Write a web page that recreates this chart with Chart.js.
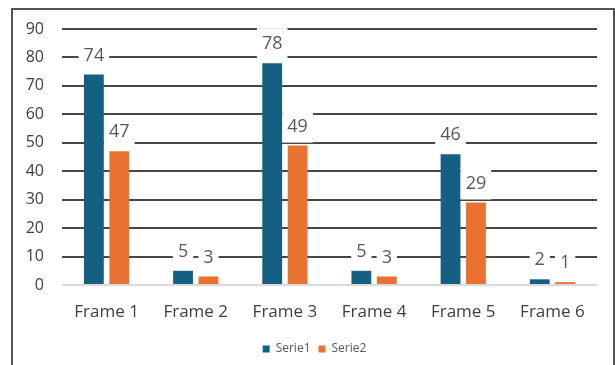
<!DOCTYPE html>
<html lang="en">
<head>
    <meta charset="UTF-8">
    <title>Frames</title>
    <script src="https://cdn.jsdelivr.net/npm/chart.js"></script>
    <style>
        body {
            margin: 0;
            background-color: #fff;
            overflow: hidden;
        }
        #frame {
            position: absolute;
            left: 11px;
            top: 8px;
            width: 600px;
            height: 400px;
            border: 2px solid #555;
        }
        #chartBox {
            position: absolute;
            left: 0;
            top: 0;
            width: 615px;
            height: 365px;
        }
    </style>
</head>
<body>
    <div id="frame"></div>
    <div id="chartBox">
        <canvas id="myChart"></canvas>
    </div>

    <script>
        const categories = ['Frame 1', 'Frame 2', 'Frame 3', 'Frame 4', 'Frame 5', 'Frame 6'];
        const serie1 = [74, 5, 78, 5, 46, 2];
        const serie2 = [47, 3, 49, 3, 29, 1];
        const yTicks = [0, 10, 20, 30, 40, 50, 60, 70, 80, 90];

        const fontFamily = '"Open Sans", Lato, sans-serif';

        // value labels above the bars, on white boxes that cut the grid lines
        const valueLabels = {
            id: 'valueLabels',
            afterDatasetsDraw(chart) {
                const ctx = chart.ctx;
                ctx.save();
                ctx.font = '18px ' + fontFamily;
                ctx.textAlign = 'center';
                ctx.textBaseline = 'middle';
                chart.data.datasets.forEach((ds, i) => {
                    chart.getDatasetMeta(i).data.forEach((bar, j) => {
                        const text = String(ds.data[j]);
                        const cy = bar.y - 19;
                        const w = ctx.measureText(text).width + 10;
                        const h = 32;
                        ctx.fillStyle = '#fff';
                        ctx.fillRect(bar.x - w / 2, cy - h / 2, w, h);
                        ctx.fillStyle = '#595959';
                        ctx.fillText(text, bar.x, cy);
                    });
                });
                ctx.restore();
            }
        };

        // legend in the reference sits a little right of centre
        const legendShift = {
            id: 'legendShift',
            afterLayout(chart) {
                chart.legend.left += 10;
                chart.legend.right += 10;
            }
        };

        new Chart(document.getElementById('myChart'), {
            type: 'bar',
            data: {
                labels: categories,
                datasets: [
                    { label: 'Serie1', data: serie1, backgroundColor: '#156082' },
                    { label: 'Serie2', data: serie2, backgroundColor: '#E97132' }
                ]
            },
            options: {
                responsive: true,
                maintainAspectRatio: false,
                animation: false,
                datasets: {
                    bar: { categoryPercentage: 0.57, barPercentage: 0.78 }
                },
                layout: { padding: { left: 12, right: 18, top: 29, bottom: 0 } },
                scales: {
                    x: {
                        grid: { display: false },
                        border: { display: false },
                        ticks: {
                            color: '#404040',
                            font: { family: fontFamily, size: 17 },
                            padding: 9
                        },
                        afterFit(scale) { scale.height = 50; }
                    },
                    y: {
                        min: 0,
                        max: 90,
                        afterBuildTicks(scale) {
                            scale.ticks = yTicks.map(v => ({ value: v }));
                        },
                        border: { display: false },
                        grid: {
                            drawTicks: false,
                            lineWidth: 2,
                            color: c => c.tick && c.tick.value === 0 ? '#d9d9d9' : '#474747'
                        },
                        ticks: {
                            color: '#404040',
                            font: { family: fontFamily, size: 16 },
                            padding: 18
                        },
                        afterFit(scale) { scale.width = 50; }
                    }
                },
                plugins: {
                    legend: {
                        position: 'bottom',
                        labels: {
                            boxWidth: 7,
                            boxHeight: 7,
                            padding: 8,
                            color: '#595959',
                            font: { family: fontFamily, size: 12 }
                        }
                    },
                    tooltip: { enabled: false }
                }
            },
            plugins: [valueLabels, legendShift]
        });
    </script>
</body>
</html>
